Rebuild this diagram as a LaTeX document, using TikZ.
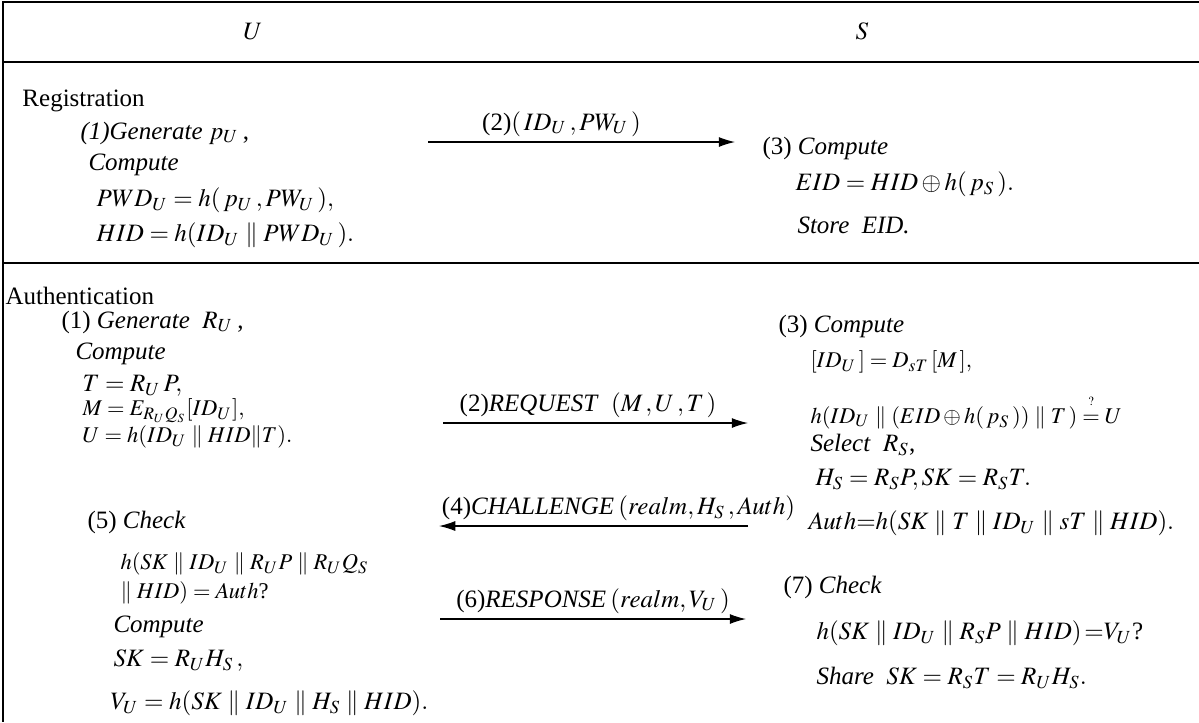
\documentclass[tikz,border=0pt]{standalone}
\usepackage{mathptmx}
\usepackage[no-math]{fontspec}
\setmainfont{Liberation Serif}
\usepackage{tikz}
\usetikzlibrary{arrows.meta}

\begin{document}
\begin{tikzpicture}[x=0.4pt, y=-0.4pt, txt/.style={anchor=west, inner sep=0pt}, msg/.style={-{Latex[length=6.5pt,width=4pt]}, line width=0.45pt}, rule/.style={line width=0.6pt}, lbl/.style={above=2pt, inner sep=0pt}]
\useasboundingbox (0,0) rectangle (1199,722);
% table frame
\draw[rule] (1199,2) -- (3,2) -- (3,722);
\draw[rule] (3,62) -- (1199,62);
\draw[rule] (3,263) -- (1199,263);
\node (u) at (253,32) {$U$};
\node (s) at (862,31) {$S$};
% registration
\node[txt] (reg) at (22,101) {Registration};
\node[txt] (regU1) at (80,133) {\textit{(1)Generate} $p_U$\,,};
\node[txt] (regU2) at (88,165) {\textit{Compute}};
\node[txt] (regU3) at (96,200) {$PWD_U = h(\,p_U\,,PW_U\,),$};
\node[txt] (regU4) at (96,235) {$HID = h(ID_U \parallel PWD_U\,).$};
\node[txt] (regS1) at (762,148) {(3) \textit{Compute}};
\node[txt] (regS2) at (795,184) {$EID = HID \oplus h(\,p_S\,).$};
\node[txt] (regS3) at (797,225) {\textit{Store\ \ EID.}};
\coordinate (m1a) at (428,142);
\coordinate (m1b) at (735,142);
\draw[msg] (m1a) -- node[lbl, xshift=-8pt] {(2)$(\,ID_U\,,PW_U\,)$} (m1b);
% authentication
\node[txt] (auth) at (5,296) {Authentication};
\node[txt] (au1) at (61,322) {(1)\ \textit{Generate}\ \ $R_U$\,,};
\node[txt] (au2) at (75,354) {\textit{Compute}};
\node[txt] (au3) at (82,386) {$T = R_U\,P,$};
\node[txt] (au4) at (82,411) {\small$M = E_{R_UQ_S}[ID_U],$};
\node[txt] (au5) at (82,437) {\small$U = h(ID_U \parallel HID\| T).$};
\node[txt] (au6) at (87,522) {(5) \textit{Check}};
\node[txt] (au7) at (120,564) {\small$h(SK \parallel ID_U \parallel R_U P \parallel R_U Q_S$};
\node[txt] (au8) at (120,593) {\small$\parallel HID) = Auth$?};
\node[txt] (au9) at (113,627) {\textit{Compute}};
\node[txt] (au10) at (113,661) {$SK = R_U H_S\,,$};
\node[txt] (au11) at (110,703) {$V_U = h(SK \parallel ID_U \parallel H_S \parallel HID).$};
\node[txt] (as1) at (778,326) {(3) \textit{Compute}};
\node[txt] (as2) at (810,362) {\small$[ID_U\,] = D_{sT}\,[M\,],$};
\node[txt] (as3) at (810,412) {\small$h(ID_U \parallel (EID \oplus h(\,p_S\,)) \parallel T\,)\mathrel{\mathop{=}\limits^{\raisebox{2pt}{$\scriptscriptstyle ?$}}}U$};
\node[txt] (as4) at (810,445) {\textit{Select}\ \ $R_S$,};
\node[txt] (as5) at (815,480) {$H_S = R_S P, SK = R_S T.$};
\node[txt] (as6) at (808,523) {$Auth{=}h(SK \parallel T \parallel ID_U \parallel sT \parallel HID).$};
\node[txt] (as7) at (783,587) {(7) \textit{Check}};
\node[txt] (as8) at (816,633) {$h(SK \parallel ID_U \parallel R_S P \parallel HID)\,{=}V_U$?};
\node[txt] (as9) at (816,678) {\textit{Share}\ \ $SK = R_S T = R_U H_S.$};
\coordinate (m2a) at (443,423);
\coordinate (m2b) at (748,423);
\coordinate (m4a) at (748,526);
\coordinate (m4b) at (439,526);
\coordinate (m6a) at (440,619);
\coordinate (m6b) at (746,619);
\draw[msg] (m2a) -- node[lbl, xshift=-3pt] {(2)\textit{REQUEST}\ \ $(M\,,U\,,T\,)$} (m2b);
\draw[msg] (m4a) -- node[lbl, xshift=10pt] {(4)\textit{CHALLENGE}\,$(realm, H_S\,, Auth)$} (m4b);
\draw[msg] (m6a) -- node[lbl] {(6)\textit{RESPONSE}\,$(realm, V_U\,)$} (m6b);
\end{tikzpicture}
\end{document}
